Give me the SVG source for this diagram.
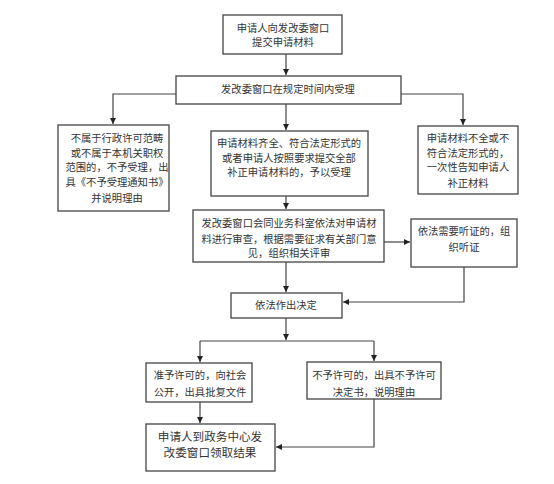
<svg xmlns="http://www.w3.org/2000/svg" width="554" height="484" viewBox="0 0 554 484">
<style>
.box{fill:#fff;stroke:#444;stroke-width:1.3}
.t{font-family:"Liberation Serif","Noto Sans CJK SC",serif;font-size:10.3px;fill:#333;text-anchor:middle;dominant-baseline:central}
.big{font-size:11.6px}
.c{fill:none;stroke:#444;stroke-width:1.2}
</style>
<defs>
<marker id="ah" markerUnits="userSpaceOnUse" markerWidth="8" markerHeight="8" refX="6" refY="3" orient="auto">
<path d="M0,0 L6,3 L0,6 Z" fill="#222"/>
</marker>
</defs>
<rect width="554" height="484" fill="#fff"/>
<g id="connectors">
<path class="c" d="M286,54 V75" marker-end="url(#ah)"/>
<path class="c" d="M176,94 H113 V124" marker-end="url(#ah)"/>
<path class="c" d="M401,94 H463 V125" marker-end="url(#ah)"/>
<path class="c" d="M286,104 V130" marker-end="url(#ah)"/>
<path class="c" d="M286,196 V209" marker-end="url(#ah)"/>
<path class="c" d="M384,242 H410" marker-end="url(#ah)"/>
<path class="c" d="M286,262 V292" marker-end="url(#ah)"/>
<path class="c" d="M464,267 V302 H343" marker-end="url(#ah)"/>
<path class="c" d="M286,318 V340" marker-end="url(#ah)"/>
<path class="c" d="M200,341 H374"/>
<path class="c" d="M200,341 V362" marker-end="url(#ah)"/>
<path class="c" d="M374,341 V361" marker-end="url(#ah)"/>
<path class="c" d="M200,402 V423" marker-end="url(#ah)"/>
<path class="c" d="M374,399 V447 H276" marker-end="url(#ah)"/>
</g>
<g id="n1">
<rect class="box" x="223" y="15" width="119" height="39"/>
<text class="t" x="283" y="28">申请人向发改委窗口</text>
<text class="t" x="283" y="42">提交申请材料</text>
</g>
<g id="n2">
<rect class="box" x="176" y="76" width="225" height="28"/>
<text class="t" x="288" y="89">发改委窗口在规定时间内受理</text>
</g>
<g id="n3">
<rect class="box" x="58" y="125" width="111" height="86"/>
<text class="t" x="117" y="138">不属于行政许可范畴</text>
<text class="t" x="117" y="153">或不属于本机关职权</text>
<text class="t" x="117" y="167">范围的，不予受理，出</text>
<text class="t" x="117" y="182">具《不予受理通知书》</text>
<text class="t" x="117" y="198">并说明理由</text>
</g>
<g id="n4">
<rect class="box" x="211" y="131" width="157" height="65"/>
<text class="t" x="289" y="143">申请材料齐全、符合法定形式的</text>
<text class="t" x="289" y="158">或者申请人按照要求提交全部</text>
<text class="t" x="289" y="172">补正申请材料的，予以受理</text>
</g>
<g id="n5">
<rect class="box" x="418" y="126" width="100" height="68"/>
<text class="t" x="468" y="138">申请材料不全或不</text>
<text class="t" x="468" y="153">符合法定形式的，</text>
<text class="t" x="468" y="167">一次性告知申请人</text>
<text class="t" x="468" y="183">补正材料</text>
</g>
<g id="n6">
<rect class="box" x="193" y="210" width="191" height="52"/>
<text class="t" x="289" y="223">发改委窗口会同业务科室依法对申请材</text>
<text class="t" x="289" y="239">料进行审查，根据需要征求有关部门意</text>
<text class="t" x="289" y="253">见，组织相关评审</text>
</g>
<g id="n7">
<rect class="box" x="411" y="219" width="106" height="48"/>
<text class="t" x="464" y="231">依法需要听证的，组</text>
<text class="t" x="464" y="247">织听证</text>
</g>
<g id="n8">
<rect class="box" x="231" y="293" width="111" height="25"/>
<text class="t" x="286" y="305">依法作出决定</text>
</g>
<g id="n9">
<rect class="box" x="146" y="363" width="106" height="39"/>
<text class="t" x="200" y="375">准予许可的，向社会</text>
<text class="t" x="200" y="392">公开，出具批复文件</text>
</g>
<g id="n10">
<rect class="box" x="307" y="362" width="134" height="37"/>
<text class="t" x="374" y="375">不予许可的，出具不予许可</text>
<text class="t" x="374" y="392">决定书，说明理由</text>
</g>
<g id="n11">
<rect class="box" x="146" y="424" width="129" height="47"/>
<text class="t big" x="210" y="437">申请人到政务中心发</text>
<text class="t big" x="210" y="453">改委窗口领取结果</text>
</g>
</svg>
